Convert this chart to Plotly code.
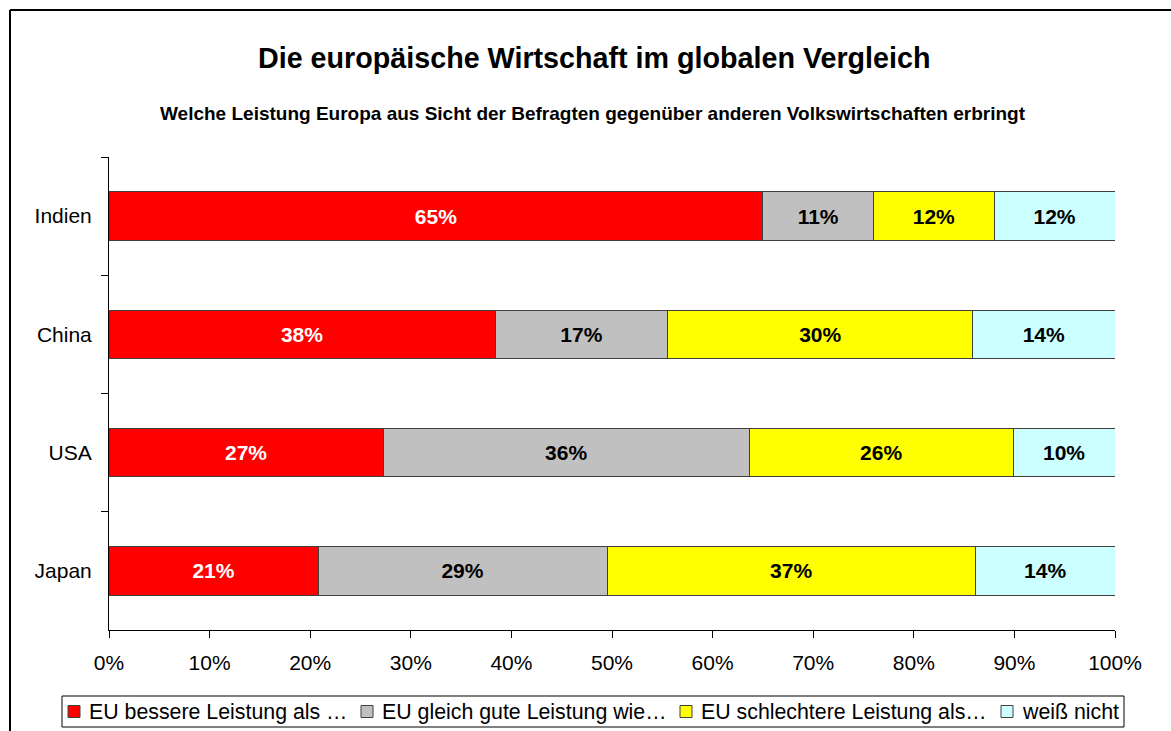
import plotly.graph_objects as go

categories = ["Indien", "China", "USA", "Japan"]
series_names = ["EU bessere Leistung als …", "EU gleich gute Leistung wie…",
                "EU schlechtere Leistung als…", "weiß nicht"]
besser = [65, 38, 27, 21]
gleich = [11, 17, 36, 29]
schlechter = [12, 30, 26, 37]
weiss_nicht = [12, 14, 10, 14]
x_ticks = [0, 10, 20, 30, 40, 50, 60, 70, 80, 90, 100]

series_values = [besser, gleich, schlechter, weiss_nicht]
colors = ["#FF0000", "#C0C0C0", "#FFFF00", "#CCFFFF"]
text_colors = ["white", "black", "black", "black"]

W, H = 1171, 731
L, R, T, B = 109, 56, 157, 101
pw, ph = W - L - R, H - T - B
FONT = "Liberation Sans, Arial"


def px(xp):
    return (xp - L) / pw


def py(yp):
    return 1 - (yp - T) / ph


fig = go.Figure()
for name, vals, col, tcol in zip(series_names, series_values, colors, text_colors):
    fig.add_trace(go.Bar(
        y=categories, x=vals, name=name, orientation="h",
        marker=dict(color=col, line=dict(color="#404040", width=1)),
        text=[f"{v}%" for v in vals], textposition="inside",
        insidetextanchor="middle", textangle=0,
        textfont=dict(family=FONT, size=21, color=tcol, weight="bold"),
        hoverinfo="skip", showlegend=False,
    ))

annotations = [
    dict(text="<b>Die europäische Wirtschaft im globalen Vergleich</b>",
         xref="paper", yref="paper", x=px(594), y=py(58),
         xanchor="center", yanchor="middle", showarrow=False,
         font=dict(size=28.7)),
    dict(text="<b>Welche Leistung Europa aus Sicht der Befragten gegenüber anderen Volkswirtschaften erbringt</b>",
         xref="paper", yref="paper", x=px(593), y=py(113),
         xanchor="center", yanchor="middle", showarrow=False,
         font=dict(size=19)),
]
shapes = [
    # outer chart frame (left and top edges visible)
    dict(type="line", xref="paper", yref="paper",
         x0=px(10), x1=px(10), y0=py(10), y1=py(H + 20),
         line=dict(color="black", width=2)),
    dict(type="line", xref="paper", yref="paper",
         x0=px(10), x1=px(W + 20), y0=py(10), y1=py(10),
         line=dict(color="black", width=2)),
    # legend frame
    dict(type="rect", xref="paper", yref="paper",
         x0=px(62), x1=px(1124), y0=py(696), y1=py(727),
         line=dict(color="black", width=1), fillcolor="white"),
]

# custom legend (text start positions in pixels)
legend_text_x = [89, 382, 701, 1022]
legend_cy = 711.5
for name, col, tx in zip(series_names, colors, legend_text_x):
    shapes.append(dict(type="rect", xref="paper", yref="paper",
                       x0=px(tx - 21), x1=px(tx - 9),
                       y0=py(legend_cy - 6), y1=py(legend_cy + 6),
                       line=dict(color="#404040", width=1), fillcolor=col))
    annotations.append(dict(text=name, xref="paper", yref="paper",
                            x=px(tx - 2), y=py(legend_cy), xanchor="left", yanchor="middle",
                            showarrow=False, font=dict(size=21.33)))

fig.update_layout(
    width=W, height=H,
    barmode="stack", barnorm="percent", bargap=0.59,
    margin=dict(l=L, r=R, t=T, b=B),
    paper_bgcolor="white", plot_bgcolor="white",
    font=dict(family=FONT, size=21, color="black"),
    showlegend=False,
    xaxis=dict(
        range=[0, 100], tickvals=x_ticks, ticktext=[f"{v}%" for v in x_ticks],
        ticks="outside", ticklen=7, tickcolor="black", ticklabelstandoff=7,
        showline=True, linecolor="black", linewidth=1,
        showgrid=False, zeroline=False, fixedrange=True,
    ),
    yaxis=dict(
        categoryorder="array", categoryarray=categories, autorange="reversed",
        ticks="outside", ticklen=7, tickcolor="black", tickson="boundaries",
        ticklabelstandoff=12,
        showline=True, linecolor="black", linewidth=1, showgrid=False,
        fixedrange=True,
    ),
    annotations=annotations,
    shapes=shapes,
)

fig.write_html("out.html", config={"displayModeBar": False},
               post_script="document.body.style.margin='0px';document.body.style.overflow='hidden';")
